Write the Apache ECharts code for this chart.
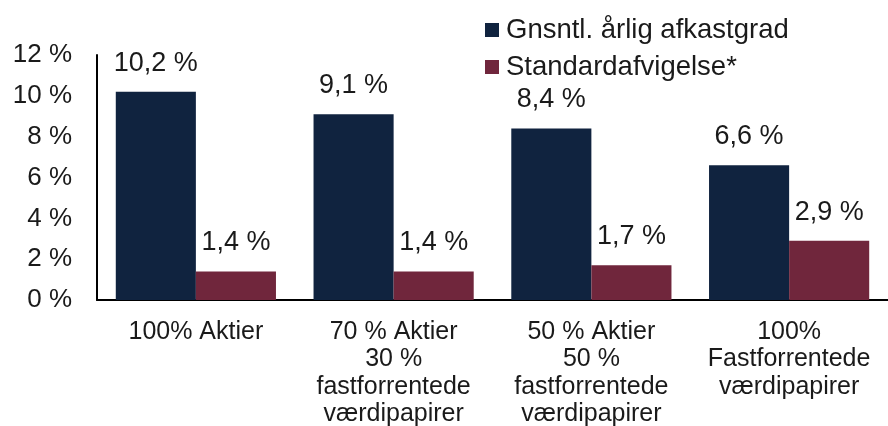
<!DOCTYPE html>
<html><head><meta charset="utf-8">
<script src="https://cdn.jsdelivr.net/npm/echarts@6/dist/echarts.min.js"></script>
<style>html,body{margin:0;padding:0;background:#fff}#c{width:888px;height:426px}</style>
</head><body><div id="c"></div>
<script>
const categories = ["100% Aktier", "70 % Aktier\n30 %\nfastforrentede\nværdipapirer", "50 % Aktier\n50 %\nfastforrentede\nværdipapirer", "100%\nFastforrentede\nværdipapirer"];
const seriesNames = ["Gnsntl. årlig afkastgrad", "Standardafvigelse*"];
const avgReturn = [10.2, 9.1, 8.4, 6.6];
const stdDev = [1.4, 1.4, 1.7, 2.9];
const yTicks = [0, 2, 4, 6, 8, 10, 12];

const font = "'Liberation Sans', Arial, sans-serif";
const fmt = v => String(v).replace('.', ',') + ' %';
const chart = echarts.init(document.getElementById('c'), null, {renderer: 'canvas'});
const labelCfg = {show: true, position: 'top', distance: 15, color: '#1a1a1a', fontFamily: font, fontSize: 27,
  formatter: p => fmt(p.value)};
chart.setOption({
  animation: false,
  textStyle: {fontFamily: font},
  legend: {
    orient: 'vertical', left: 485, top: 16, padding: 0, itemWidth: 14, itemHeight: 14, itemGap: 9,
    icon: 'rect', textStyle: {fontFamily: font, fontSize: 27.5, color: '#1a1a1a', padding: [0, 0, 0, 2]},
    data: seriesNames
  },
  grid: {left: 97, right: 0, top: 55, bottom: 126, containLabel: false, outerBoundsMode: 'none'},
  xAxis: {
    type: 'category', data: categories,
    axisLine: {lineStyle: {color: '#000', width: 2}},
    axisTick: {show: false},
    axisLabel: {fontFamily: font, fontSize: 25, color: '#1a1a1a', margin: 18, lineHeight: 27.5, interval: 0}
  },
  yAxis: {
    type: 'value', min: yTicks[0], max: yTicks[yTicks.length - 1], interval: yTicks[1] - yTicks[0],
    axisLine: {show: true, lineStyle: {color: '#000', width: 2}},
    axisTick: {show: false},
    splitLine: {show: false},
    axisLabel: {fontFamily: font, fontSize: 26, color: '#1a1a1a', margin: 25, formatter: v => v + ' %'}
  },
  series: [
    {name: seriesNames[0], type: 'bar', data: avgReturn, barGap: '0%', barCategoryGap: '19%',
     itemStyle: {color: '#10233F'}, label: labelCfg},
    {name: seriesNames[1], type: 'bar', data: stdDev,
     itemStyle: {color: '#70263C'}, label: labelCfg}
  ]
});
</script></body></html>
